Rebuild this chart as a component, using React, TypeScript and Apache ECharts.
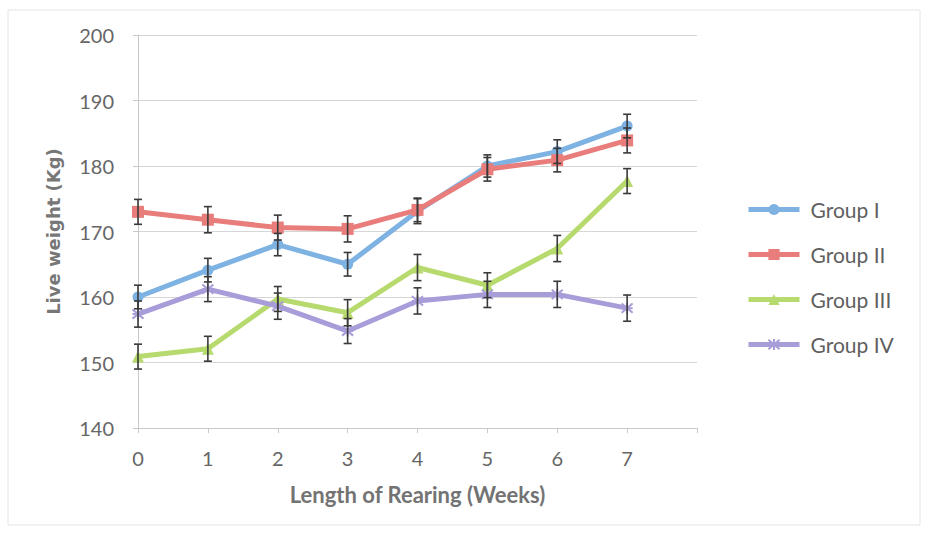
import React, { useEffect, useRef } from "react";
import * as echarts from "echarts";

const weeks = [0, 1, 2, 3, 4, 5, 6, 7];
const xTickLabels = ["0", "1", "2", "3", "4", "5", "6", "7"];
const groupNames = ["Group I", "Group II", "Group III", "Group IV"];
const groupI = [160.0, 164.1, 168.0, 165.0, 173.1, 180.0, 182.2, 186.1];
const groupII = [173.0, 171.8, 170.6, 170.4, 173.3, 179.5, 180.9, 183.9];
const groupIII = [150.9, 152.1, 159.7, 157.6, 164.5, 161.8, 167.4, 177.7];
const groupIV = [157.4, 161.2, 158.6, 154.8, 159.4, 160.4, 160.4, 158.3];
const errI = [1.8, 1.8, 1.7, 1.8, 1.9, 1.7, 1.8, 1.8];
const errII = [1.9, 2.0, 1.9, 2.0, 1.8, 1.8, 1.8, 1.9];
const errIII = [1.9, 1.9, 1.9, 2.0, 2.0, 1.9, 2.0, 1.9];
const errIV = [2.0, 1.9, 2.0, 1.9, 2.0, 2.0, 2.0, 2.0];

const colors = ["#7db2e2", "#e87d7b", "#b7da6e", "#a89cd9"];
const symbols = [
  "circle",
  "rect",
  "triangle",
  "path://M0,0L10,10M10,0L0,10M5,-1L5,11M0,5L10,5",
];
const symbolSizes = [11, 12, 12, 11];

export default function App() {
  const ref = useRef<HTMLDivElement>(null);
  useEffect(() => {
    if (!ref.current) return;
    const chart = echarts.init(ref.current, null, { renderer: "svg" });
    const values = [groupI, groupII, groupIII, groupIV];
    const errs = [errI, errII, errIII, errIV];
    const font = "Lato, 'Liberation Sans', sans-serif";

    const lineSeries = values.map((vals, gi) => ({
      name: groupNames[gi],
      type: "line",
      data: weeks.map((w, i) => [w, vals[i]]),
      symbol: symbols[gi],
      symbolSize: symbolSizes[gi],
      showSymbol: true,
      lineStyle: { color: colors[gi], width: 5 },
      itemStyle: {
        color: colors[gi],
        borderColor: colors[gi],
        borderWidth: gi === 3 ? 2 : 0,
      },
      z: 2 + gi,
    }));

    const errSeries = values.map((vals, gi) => ({
      name: groupNames[gi] + " error",
      type: "custom",
      data: weeks.map((w, i) => [w, vals[i] - errs[gi][i], vals[i] + errs[gi][i]]),
      encode: { x: 0, y: [1, 2] },
      z: 10,
      silent: true,
      renderItem: (params: any, api: any) => {
        const x = api.value(0);
        const lo = api.coord([x, api.value(1)]);
        const hi = api.coord([x, api.value(2)]);
        const hw = 4;
        const style = { stroke: "#3a3a3a", lineWidth: 1.6 };
        return {
          type: "group",
          children: [
            { type: "line", shape: { x1: lo[0], y1: lo[1], x2: hi[0], y2: hi[1] }, style },
            { type: "line", shape: { x1: lo[0] - hw, y1: lo[1], x2: lo[0] + hw, y2: lo[1] }, style },
            { type: "line", shape: { x1: hi[0] - hw, y1: hi[1], x2: hi[0] + hw, y2: hi[1] }, style },
          ],
        };
      },
    }));

    chart.setOption({
      animation: false,
      backgroundColor: "#ffffff",
      graphic: [
        {
          type: "rect",
          shape: { x: 8, y: 10, width: 912, height: 515 },
          style: { fill: "none", stroke: "#e4e4e4", lineWidth: 1 },
          silent: true,
          z: -10,
        },
      ],
      grid: { left: 138, right: 236, top: 35, bottom: 106 },
      legend: {
        data: groupNames,
        orient: "vertical",
        left: 741,
        top: 194,
        itemWidth: 51,
        itemHeight: 14,
        itemGap: 24,
        lineStyle: { width: 5 },
        textStyle: {
          fontFamily: font,
          fontSize: 21,
          color: "#5f5f5f",
          lineHeight: 21,
          padding: [0, 0, 0, 6],
        },
      },
      xAxis: {
        type: "value",
        min: 0,
        max: 8,
        interval: 1,
        name: "Length of Rearing (Weeks)",
        nameLocation: "middle",
        nameGap: 55,
        nameTextStyle: { fontFamily: font, fontSize: 22, fontWeight: "bold", color: "#737373" },
        axisLine: { show: true, lineStyle: { color: "#c8c8c8", width: 1 } },
        axisTick: { show: true, length: 5, lineStyle: { color: "#c8c8c8" } },
        axisLabel: {
          margin: 20,
          fontFamily: font,
          fontSize: 20,
          color: "#666666",
          formatter: (v: number) => (v < xTickLabels.length ? xTickLabels[v] : ""),
        },
        splitLine: { show: false },
      },
      yAxis: {
        type: "value",
        min: 140,
        max: 200,
        interval: 10,
        name: "Live weight (Kg)",
        nameLocation: "middle",
        nameGap: 76,
        nameTextStyle: {
          fontFamily: "'DejaVu Sans', sans-serif",
          fontSize: 18,
          fontWeight: "bold",
          color: "#777777",
        },
        axisLine: { show: true, lineStyle: { color: "#c8c8c8", width: 1 } },
        axisTick: { show: true, length: 5, lineStyle: { color: "#c8c8c8" } },
        axisLabel: { margin: 24, fontFamily: font, fontSize: 20, color: "#666666" },
        splitLine: { show: true, lineStyle: { color: "#d6d6d6", width: 1 } },
      },
      series: [...lineSeries, ...errSeries],
    });
    return () => chart.dispose();
  }, []);
  return (
    <div
      ref={ref}
      style={{ position: "fixed", left: 0, top: 0, width: 933, height: 534 }}
    />
  );
}
